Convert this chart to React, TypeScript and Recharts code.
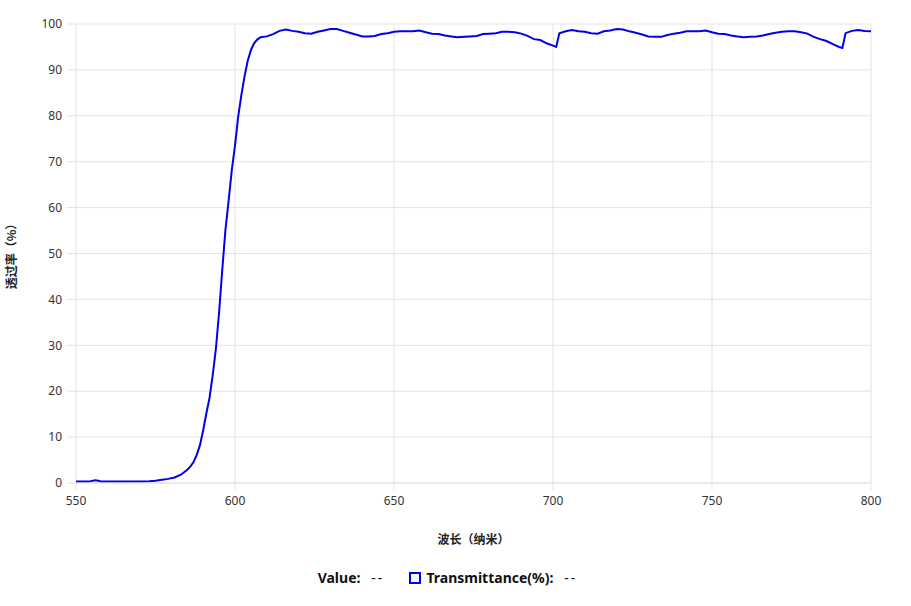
import React from 'react';
import { LineChart, Line, XAxis, YAxis, CartesianGrid } from 'recharts';

const wavelengths = [
  550, 552, 554, 556, 557, 558, 560, 565, 570, 573, 575, 577, 579, 581, 583, 585, 586, 587, 588, 589,
  590, 591, 592, 593, 594, 595, 596, 597, 598, 599, 600, 601, 602, 603, 604, 605, 606, 607, 608, 610,
  612, 614, 616, 618, 620, 622, 624, 626, 628, 630, 632, 634, 636, 638, 640, 642, 644, 646, 648, 650,
  652, 654, 656, 658, 660, 662, 664, 666, 668, 670, 672, 674, 676, 678, 680, 682, 684, 686, 688, 690,
  692, 694, 696, 698, 700, 701, 702, 704, 706, 708, 710, 712, 714, 716, 718, 720, 722, 724, 726, 728,
  730, 732, 734, 736, 738, 740, 742, 744, 746, 748, 750, 752, 754, 756, 758, 760, 762, 764, 766, 768,
  770, 772, 774, 776, 778, 780, 782, 784, 786, 788, 790, 791, 792, 794, 796, 798, 800,
];

const transmittance = [
  0.3, 0.3, 0.3, 0.6, 0.5, 0.3, 0.3, 0.3, 0.3, 0.4, 0.5, 0.7, 0.9, 1.2, 1.8, 2.9, 3.6, 4.6, 6.2, 8.3,
  11.5, 15.2, 18.6, 23.5, 29.3, 37.2, 46.5, 55.2, 61.5, 68.2, 73.5, 79.8, 84.5, 88.6, 92.0, 94.3, 95.8, 96.6, 97.1, 97.3,
  97.8, 98.5, 98.8, 98.5, 98.3, 98.0, 97.9, 98.3, 98.6, 98.9, 98.9, 98.5, 98.1, 97.7, 97.3, 97.3, 97.4, 97.8, 98.0, 98.3,
  98.4, 98.4, 98.4, 98.6, 98.2, 97.9, 97.8, 97.5, 97.3, 97.1, 97.2, 97.3, 97.4, 97.8, 97.9, 98.0, 98.3, 98.3, 98.2, 97.9,
  97.4, 96.7, 96.5, 95.8, 95.3, 95.0, 98.0, 98.4, 98.7, 98.4, 98.3, 98.0, 97.9, 98.4, 98.6, 98.9, 98.8, 98.4, 98.1, 97.7,
  97.3, 97.2, 97.2, 97.6, 97.9, 98.1, 98.4, 98.4, 98.4, 98.6, 98.2, 97.9, 97.8, 97.5, 97.3, 97.1, 97.2, 97.3, 97.5, 97.8,
  98.1, 98.3, 98.4, 98.4, 98.2, 97.9, 97.2, 96.7, 96.3, 95.6, 95.0, 94.8, 98.0, 98.5, 98.7, 98.5, 98.4,
];

const xTicks = [550, 600, 650, 700, 750, 800];
const yTicks = [0, 10, 20, 30, 40, 50, 60, 70, 80, 90, 100];

const xTitle = '波长（纳米）';
const yTitle = '透过率（%）';
const seriesName = 'Transmittance(%)';
const lineColor = '#0000ee';

const data = wavelengths.map((w, i) => ({ w, t: transmittance[i] }));

const tickStyle = { fontSize: 12, fill: '#333', fontFamily: '"Noto Sans", "Noto Sans CJK SC", sans-serif' };
const labelFont = '"Noto Sans CJK SC", "Noto Sans", sans-serif';

export default function App() {
  return (
    <div style={{ position: 'absolute', left: 0, top: 0, width: 911, height: 606, background: '#fff' }}>
      <LineChart width={911} height={606} data={data} margin={{ top: 24, right: 40, left: 0, bottom: 0 }}>
        <CartesianGrid stroke="#e3e3e3" strokeWidth={1} horizontal vertical />
        <XAxis
          dataKey="w"
          type="number"
          domain={[550, 800]}
          ticks={xTicks}
          height={123}
          axisLine={{ stroke: '#e3e3e3' }}
          tickLine={{ stroke: '#e3e3e3' }}
          tickSize={7}
          tickMargin={6}
          tick={tickStyle}
          label={{ value: xTitle, position: 'insideBottom', offset: 62, style: { fontSize: 12, fontWeight: 'bold', fill: '#222', fontFamily: labelFont } }}
        />
        <YAxis
          type="number"
          domain={[0, 100]}
          ticks={yTicks}
          width={76}
          axisLine={false}
          tickLine={{ stroke: '#e3e3e3' }}
          tickSize={9}
          tickMargin={5}
          tick={tickStyle}
          label={{ value: yTitle, angle: -90, position: 'insideLeft', offset: 12, style: { textAnchor: 'middle', fontSize: 12, fontWeight: 'bold', fill: '#222', fontFamily: labelFont } }}
        />
        <Line
          type="linear"
          dataKey="t"
          name={seriesName}
          stroke={lineColor}
          strokeWidth={2}
          dot={false}
          isAnimationActive={false}
        />
      </LineChart>
      <div
        style={{
          position: 'absolute',
          top: 568,
          left: 0,
          width: 895,
          display: 'flex',
          justifyContent: 'center',
          alignItems: 'center',
          fontFamily: '"Noto Sans", sans-serif',
          fontSize: 14,
          fontWeight: 'bold',
          color: '#111',
          lineHeight: '20px',
        }}
      >
        <span>Value:&nbsp;&nbsp;&nbsp;<span style={{ fontWeight: 'normal', letterSpacing: 2 }}>--</span></span>
        <span style={{ display: 'inline-block', width: 8, height: 8, border: `2px solid ${lineColor}`, marginLeft: 25, marginRight: 5 }} />
        <span>{seriesName}:&nbsp;&nbsp;&nbsp;<span style={{ fontWeight: 'normal', letterSpacing: 2 }}>--</span></span>
      </div>
    </div>
  );
}
